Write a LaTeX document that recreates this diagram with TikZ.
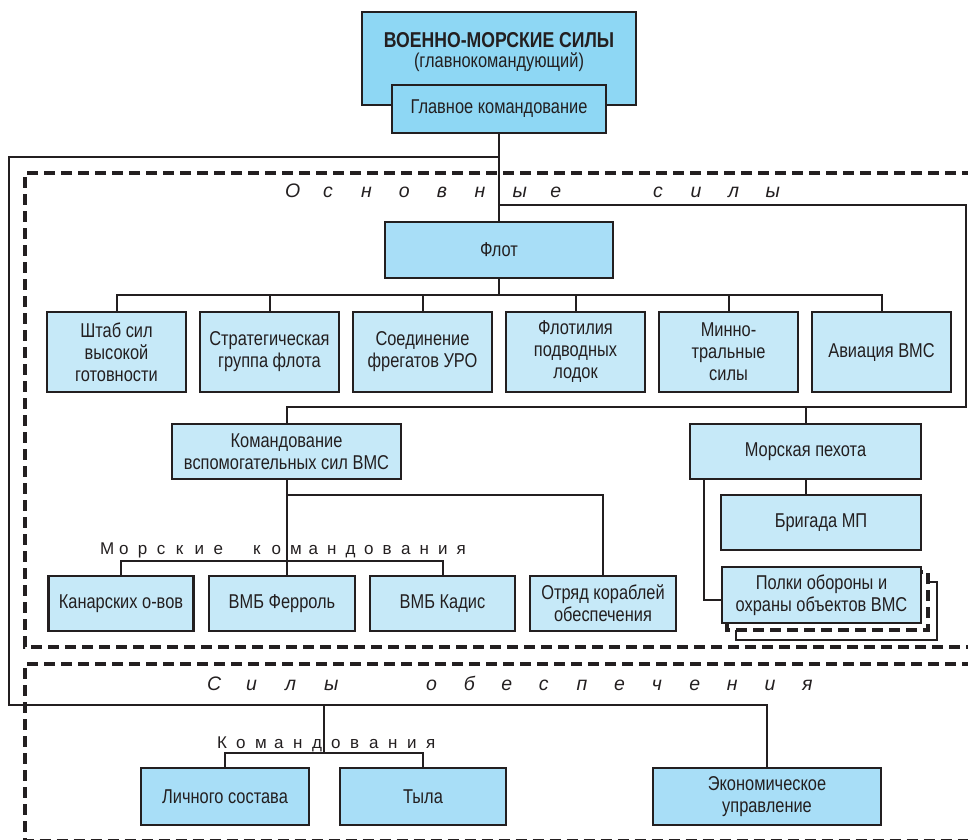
\documentclass[tikz,border=0pt]{standalone}
\usepackage{fontspec}
\setmainfont{Liberation Sans}[FakeStretch=0.82]
\newfontfamily\labelfont{Liberation Sans}
\usetikzlibrary{backgrounds}

\definecolor{ink}{HTML}{231F20}
\definecolor{vmsdark}{HTML}{8ED7F4}
\definecolor{vmsmid}{HTML}{A8DEF7}
\definecolor{vmslight}{HTML}{C6E9F8}

\newcommand\boxfont{\fontsize{20}{22}\selectfont}
\makeatletter
\newcommand\spreadword[2]{\@tfor\spread@c:=#2\do{\makebox[#1][l]{\spread@c}}}
\makeatother

\begin{document}
\begin{tikzpicture}[x=1pt,y=-1pt,
  unit/.style={draw=ink, line width=2.4pt, align=center, text=ink, font=\boxfont, inner sep=2pt},
  dark/.style={unit, fill=vmsdark},
  mid/.style={unit, fill=vmsmid},
  light/.style={unit, fill=vmslight},
  link/.style={draw=ink, line width=2pt},
  group/.style={draw=ink, line width=3.6pt, dash pattern=on 11pt off 6pt},
  grouplabel/.style={text=ink, anchor=base west, inner sep=0pt}]
\useasboundingbox (0,0) rectangle (968,839);

% top of the chain
\node[dark, minimum width=274pt, minimum height=93pt] (vms) at (499,58.5) {};
\node[text=ink, align=center, font=\fontsize{20}{20}\selectfont] (vmstitle) at (499,52) {{\fontsize{21.5}{20}\selectfont\bfseries ВОЕННО-МОРСКИЕ СИЛЫ}\\(главнокомандующий)};
\node[dark, minimum width=214pt, minimum height=48pt] (glk) at (499,109) {Главное командование};

% main forces
\node[mid, minimum width=228pt, minimum height=56pt] (flot) at (499,250) {Флот};
\node[light, minimum width=139pt, minimum height=80pt] (f1) at (116.5,352) {Штаб сил\\высокой\\готовности};
\node[light, minimum width=139pt, minimum height=80pt] (f2) at (269.5,352) {Стратегическая\\группа флота};
\node[light, minimum width=139pt, minimum height=80pt] (f3) at (422.5,352) {Соединение\\фрегатов УРО};
\node[light, minimum width=139pt, minimum height=80pt] (f4) at (575.5,352) {Флотилия\\подводных\\лодок};
\node[light, minimum width=139pt, minimum height=80pt] (f5) at (728.5,352) {Минно-\\тральные\\силы};
\node[light, minimum width=139pt, minimum height=80pt] (f6) at (881.5,352) {Авиация ВМС};

\node[light, minimum width=229pt, minimum height=55pt] (kvs) at (286.5,451.5) {Командование\\вспомогательных сил ВМС};
\node[light, minimum width=145pt, minimum height=55pt] (kan) at (121,603.5) {Канарских о-вов};
\node[light, minimum width=146pt, minimum height=55pt] (fer) at (282,603.5) {ВМБ Ферроль};
\node[light, minimum width=145pt, minimum height=55pt] (kad) at (442.5,603.5) {ВМБ Кадис};
\node[light, minimum width=146pt, minimum height=55pt] (otr) at (603,603.5) {Отряд кораблей\\обеспечения};

\node[light, minimum width=231pt, minimum height=55pt] (mp) at (805.5,451.5) {Морская пехота};
\node[light, minimum width=200pt, minimum height=55pt] (br) at (821,522.5) {Бригада МП};
\node[light, minimum width=199pt, minimum height=56pt] (pk) at (821.5,595) {Полки обороны и\\охраны объектов ВМС};
\begin{scope}[on background layer]
\draw[ink, line width=2pt, fill=white] ([shift={(15,16)}]pk.north west) rectangle ([shift={(15,16)}]pk.south east);
\draw[group, fill=white] ([shift={(6,6)}]pk.north west) rectangle ([shift={(6,6)}]pk.south east);
\end{scope}

% support forces
\node[mid, minimum width=168pt, minimum height=57pt] (ls) at (225,796.5) {Личного состава};
\node[mid, minimum width=166pt, minimum height=57pt] (tyl) at (423,796.5) {Тыла};
\node[mid, minimum width=228pt, minimum height=57pt] (eko) at (767,796.5) {Экономическое\\управление};

% group frames
\draw[group] (990,173) -- (25,173) -- (25,647) -- (990,647);
\draw[group] (990,664) -- (25,664) -- (25,840.5) -- (990,840.5);

\node[grouplabel, font=\labelfont\fontsize{19.5}{19.5}\selectfont\itshape] (osn) at (285,197)
  {\spreadword{37.9pt}{Основные}\hspace{64.8pt}\spreadword{37.5pt}{силы}};
\node[grouplabel, font=\labelfont\fontsize{19.5}{19.5}\selectfont\itshape] (obs) at (207,690)
  {\spreadword{39pt}{Силы}\hspace{63pt}\spreadword{37.6pt}{обеспечения}};
\node[grouplabel, font=\labelfont\fontsize{17}{17}\selectfont] (mkl) at (100,554)
  {\spreadword{18.9pt}{Морские}\hspace{20.7pt}\spreadword{18.5pt}{командования}};
\node[grouplabel, font=\labelfont\fontsize{17}{17}\selectfont] (kml) at (217,748)
  {\spreadword{19pt}{Командования}};

% junctions
\coordinate (j1) at (499,157);
\coordinate (j2) at (499,205);
\coordinate (j3) at (499,295);
\coordinate (outerTL) at (9,157);
\coordinate (outerBL) at (9,705);
\coordinate (rim) at (966,205);
\coordinate (rimB) at (966,407);
\coordinate (jo) at (286.5,495);
\coordinate (jm) at (286.5,561);
\coordinate (jk) at (324,705);
\coordinate (jk2) at (324,753);

% connectors
\draw[link] (glk) -- (flot);
\draw[link] (j1) -- (outerTL) -- (outerBL) -| (eko.north);
\draw[link] (jk) -- (jk2);
\draw[link] (ls.north) |- (jk2) -| (tyl.north);
\draw[link] (j2) -- (rim) -- (rimB) -| (kvs.north);
\draw[link] (mp.north) -- (mp.north |- rimB);
\draw[link] (flot) -- (j3);
\draw[link] (f1.north) |- (j3) -| (f6.north);
\draw[link] (f2.north) -- (f2.north |- j3);
\draw[link] (f3.north) -- (f3.north |- j3);
\draw[link] (f4.north) -- (f4.north |- j3);
\draw[link] (f5.north) -- (f5.north |- j3);
\draw[link] (kvs.south) -- (kvs.south |- fer.north);
\draw[link] (jo) -| (otr.north);
\draw[link] (kan.north) |- (jm) -| (kad.north);
\draw[link] (mp.south) -- (mp.south |- br.north);
\draw[link] ([xshift=-101.5pt]mp.south) |- ([yshift=-5pt]pk.west);
\end{tikzpicture}
\end{document}
